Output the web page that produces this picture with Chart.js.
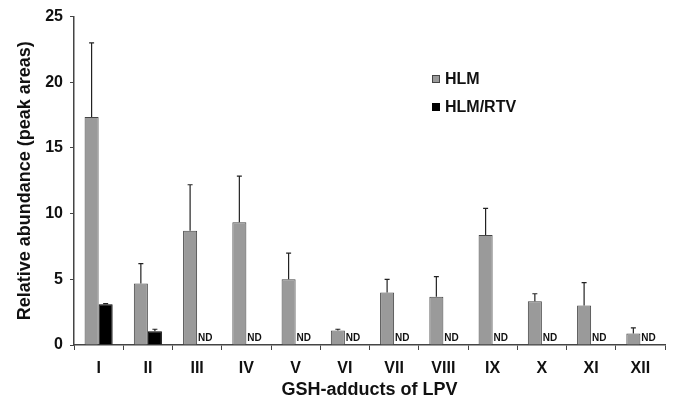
<!DOCTYPE html>
<html>
<head>
<meta charset="utf-8">
<script src="https://cdn.jsdelivr.net/npm/chart.js@4"></script>
<style>
  html, body { margin: 0; background: #fff; }
</style>
</head>
<body>
<canvas id="myChart" width="676" height="401"></canvas>
<script>
const categories = ['I', 'II', 'III', 'IV', 'V', 'VI', 'VII', 'VIII', 'IX', 'X', 'XI', 'XII'];
const hlm = [17.35, 4.68, 8.7, 9.35, 5.0, 1.1, 4.0, 3.67, 8.38, 3.33, 3.0, 0.87];
const hlmErrTop = [23.0, 6.2, 12.2, 12.85, 7.0, 1.2, 5.0, 5.2, 10.4, 3.9, 4.75, 1.3];
const rtv = [3.1, 1.05, null, null, null, null, null, null, null, null, null, null];
const rtvErrTop = [3.15, 1.2, null, null, null, null, null, null, null, null, null, null];
const yMin = 0;
const yMax = 25;
const yStep = 5;

const FONT = "'Liberation Sans', Arial, sans-serif";

// upper error bars with a small cap
const errorBars = {
  id: 'errorBars',
  afterDatasetsDraw(chart) {
    const { ctx } = chart;
    const yScale = chart.scales.y;
    chart.data.datasets.forEach((ds, i) => {
      if (!ds.errTop) return;
      const meta = chart.getDatasetMeta(i);
      meta.data.forEach((bar, j) => {
        const top = ds.errTop[j];
        if (top == null || ds.data[j] == null) return;
        const yTop = yScale.getPixelForValue(top);
        ctx.save();
        ctx.strokeStyle = '#222';
        ctx.lineWidth = 1.2;
        ctx.beginPath();
        ctx.moveTo(bar.x, bar.y);
        ctx.lineTo(bar.x, yTop);
        ctx.moveTo(bar.x - 2.5, yTop);
        ctx.lineTo(bar.x + 2.5, yTop);
        ctx.stroke();
        ctx.restore();
      });
    });
  },
};

// "ND" where nothing was detected
const notDetected = {
  id: 'notDetected',
  afterDatasetsDraw(chart) {
    const { ctx } = chart;
    const yScale = chart.scales.y;
    const meta = chart.getDatasetMeta(1);
    chart.data.datasets[1].data.forEach((v, j) => {
      if (v != null) return;
      const bar = meta.data[j];
      ctx.save();
      ctx.fillStyle = '#111';
      ctx.font = `bold 10px ${FONT}`;
      ctx.textAlign = 'center';
      ctx.textBaseline = 'middle';
      ctx.fillText('ND', bar.x + 1, yScale.getPixelForValue(0) - 7);
      ctx.restore();
    });
  },
};

const boxLegend = {
  id: 'boxLegend',
  afterDraw(chart) {
    const { ctx } = chart;
    const rows = [79, 107];
    chart.data.datasets.forEach((ds, i) => {
      const y = rows[i];
      ctx.save();
      ctx.fillStyle = ds.backgroundColor;
      ctx.strokeStyle = ds.borderColor;
      ctx.lineWidth = 1;
      ctx.fillRect(432, y - 4, 8, 8);
      ctx.strokeRect(432.5, y - 3.5, 7, 7);
      ctx.fillStyle = '#111';
      ctx.font = `bold 16px ${FONT}`;
      ctx.textAlign = 'left';
      ctx.textBaseline = 'middle';
      ctx.fillText(ds.label, 445, y + 1);
      ctx.restore();
    });
  },
};

const ctx = document.getElementById('myChart').getContext('2d');
const chart = new Chart(ctx, {
  type: 'bar',
  data: {
    labels: categories,
    datasets: [
      {
        label: 'HLM',
        data: hlm,
        errTop: hlmErrTop,
        backgroundColor: '#9a9a9a',
        borderColor: '#444',
        borderWidth: 1,
      },
      {
        label: 'HLM/RTV',
        data: rtv,
        errTop: rtvErrTop,
        backgroundColor: '#000',
        borderColor: '#000',
        borderWidth: 1,
      },
    ],
  },
  options: {
    responsive: false,
    animation: false,
    categoryPercentage: 0.57,
    barPercentage: 1,
    layout: { padding: { top: 16, right: 11, left: 0, bottom: 0 } },
    plugins: {
      legend: { display: false },
      tooltip: { enabled: false },
    },
    scales: {
      x: {
        afterFit(scale) { scale.height = 56; },
        grid: {
          offset: true,
          drawOnChartArea: false,
          tickLength: 5,
          color: '#444',
          lineWidth: 1,
        },
        border: { color: '#444', width: 1.5 },
        ticks: {
          color: '#111',
          padding: 9,
          font: { family: FONT, size: 16, weight: 'bold' },
        },
        title: {
          display: true,
          text: 'GSH-adducts of LPV',
          color: '#111',
          padding: { top: 0, bottom: 0 },
          font: { family: FONT, size: 18, weight: 'bold' },
        },
      },
      y: {
        min: yMin,
        max: yMax,
        afterFit(scale) { scale.width = 74; },
        grid: {
          drawOnChartArea: false,
          tickLength: 4,
          color: '#444',
          lineWidth: 1,
        },
        border: { color: '#444', width: 1.5 },
        ticks: {
          stepSize: yStep,
          color: '#111',
          padding: 7,
          font: { family: FONT, size: 16, weight: 'bold' },
        },
        title: {
          display: true,
          text: 'Relative abundance (peak areas)',
          color: '#111',
          padding: { top: 14, bottom: 0 },
          font: { family: FONT, size: 18, weight: 'bold' },
        },
      },
    },
  },
  plugins: [errorBars, notDetected, boxLegend],
});
</script>
</body>
</html>
